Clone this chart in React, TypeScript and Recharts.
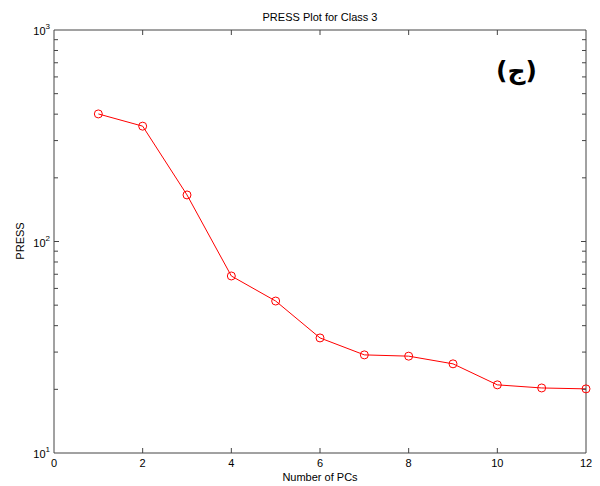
import { LineChart, Line, XAxis, YAxis } from 'recharts';

const pcs = [1, 2, 3, 4, 5, 6, 7, 8, 9, 10, 11, 12];
const press = [401, 351, 166, 68.7, 52.3, 35.0, 29.1, 28.7, 26.4, 21.0, 20.3, 20.1];
const xTicks = [0, 2, 4, 6, 8, 10, 12];
const decades = [10, 100, 1000];
const yTicks = [10, 20, 30, 40, 50, 60, 70, 80, 90, 100, 200, 300, 400, 500, 600, 700, 800, 900, 1000];

const data = pcs.map((pc, i) => ({ pc, press: press[i] }));

const AXIS = '#444';
const FONT = '"Liberation Sans", Arial, sans-serif';

function LeftTick({ x, y, payload }: any) {
  const v = payload.value;
  const major = decades.includes(v);
  const len = major ? 5 : 4;
  return (
    <g>
      {v !== 10 && v !== 1000 && <line x1={x} x2={x + len} y1={y} y2={y} stroke={AXIS} />}
      {major && (
        <text x={x - 4} y={y + 5} textAnchor="end" fontSize={11} fontFamily={FONT} fill="#000">
          10
          <tspan dy={-6} fontSize={8}>
            {Math.round(Math.log10(v))}
          </tspan>
        </text>
      )}
    </g>
  );
}

function RightTick({ x, y, payload }: any) {
  const v = payload.value;
  const len = decades.includes(v) ? 5 : 4;
  if (v === 10 || v === 1000) return <g />;
  return <line x1={x - len} x2={x} y1={y} y2={y} stroke={AXIS} />;
}

function BottomTick({ x, y, payload }: any) {
  const v = payload.value;
  return (
    <g>
      {v !== 0 && v !== 12 && <line x1={x} x2={x} y1={y} y2={y - 5} stroke={AXIS} />}
      <text x={x} y={y + 14} textAnchor="middle" fontSize={11} fontFamily={FONT} fill="#000">
        {v}
      </text>
    </g>
  );
}

function TopTick({ x, y, payload }: any) {
  const v = payload.value;
  if (v === 0 || v === 12) return <g />;
  return <line x1={x} x2={x} y1={y} y2={y + 5} stroke={AXIS} />;
}

export default function App() {
  return (
    <div style={{ position: 'absolute', left: 0, top: 0, width: 600, height: 486, background: '#fff' }}>
      <LineChart width={600} height={486} data={data} margin={{ top: 29, right: 13, left: 14, bottom: 0 }}>
        <XAxis
          xAxisId="bottom"
          dataKey="pc"
          type="number"
          domain={[0, 12]}
          ticks={xTicks}
          tickLine={false}
          tickSize={0}
          tickMargin={0}
          tick={<BottomTick />}
          stroke={AXIS}
          height={33}
          interval={0}
        />
        <XAxis
          xAxisId="top"
          orientation="top"
          dataKey="pc"
          type="number"
          domain={[0, 12]}
          ticks={xTicks}
          tickLine={false}
          tickSize={0}
          tickMargin={0}
          tick={<TopTick />}
          stroke={AXIS}
          height={1}
          interval={0}
        />
        <YAxis
          yAxisId="left"
          scale="log"
          type="number"
          domain={[10, 1000]}
          ticks={yTicks}
          allowDataOverflow
          tickLine={false}
          tickSize={0}
          tickMargin={0}
          tick={<LeftTick />}
          stroke={AXIS}
          width={40}
          interval={0}
        />
        <YAxis
          yAxisId="right"
          orientation="right"
          scale="log"
          type="number"
          domain={[10, 1000]}
          ticks={yTicks}
          allowDataOverflow
          tickLine={false}
          tickSize={0}
          tickMargin={0}
          tick={<RightTick />}
          stroke={AXIS}
          width={1}
          interval={0}
        />
        <Line
          xAxisId="bottom"
          yAxisId="left"
          dataKey="press"
          stroke="#ff0000"
          strokeWidth={1}
          dot={{ r: 4, stroke: '#ff0000', strokeWidth: 1, fill: 'none' }}
          isAnimationActive={false}
        />
        <Line
          xAxisId="top"
          yAxisId="right"
          dataKey="press"
          stroke="none"
          dot={false}
          activeDot={false}
          isAnimationActive={false}
        />
      </LineChart>
      <div style={{ position: 'absolute', left: 0, width: 640, top: 11, textAlign: 'center', fontSize: 11, fontFamily: FONT, color: '#000' }}>
        PRESS Plot for Class 3
      </div>
      <div style={{ position: 'absolute', left: 0, width: 640, top: 471, textAlign: 'center', fontSize: 11, fontFamily: FONT, color: '#000' }}>
        Number of PCs
      </div>
      <div
        style={{
          position: 'absolute',
          left: 20,
          top: 241,
          transform: 'translate(-50%, -50%) rotate(-90deg)',
          fontSize: 11,
          fontFamily: FONT,
          color: '#000',
        }}
      >
        PRESS
      </div>
      <div style={{ position: 'absolute', left: 496, top: 56, fontSize: 25, fontWeight: 'bold', fontFamily: '"DejaVu Sans", sans-serif', color: '#000' }}>
        (ج)
      </div>
    </div>
  );
}
